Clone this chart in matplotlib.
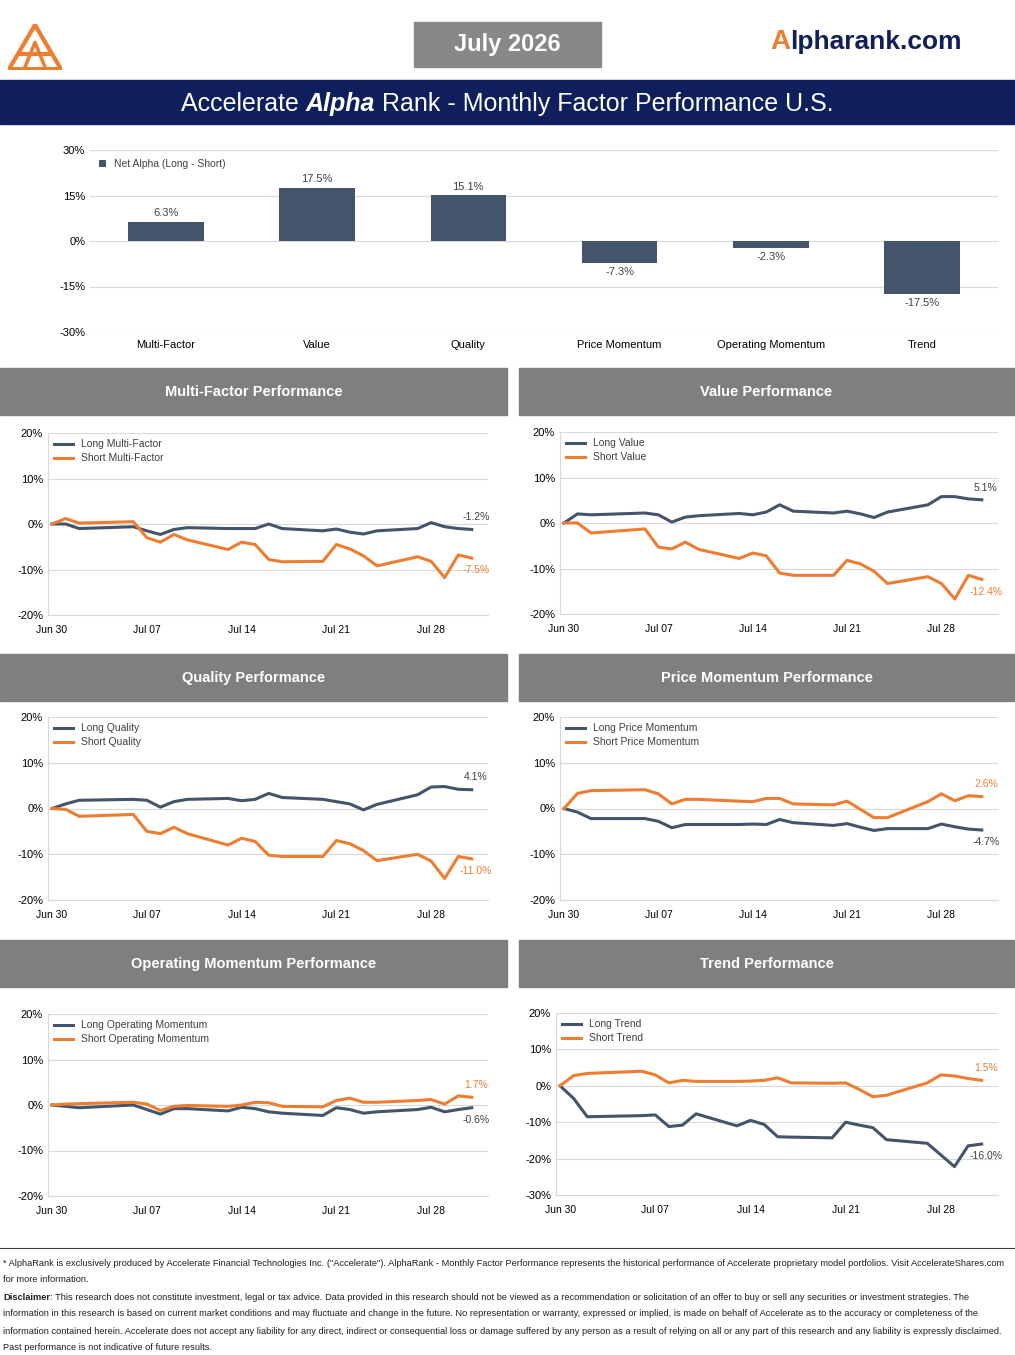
import matplotlib
matplotlib.use("Agg")
import matplotlib.pyplot as plt
from matplotlib.patches import Rectangle, Polygon

plt.rcParams['font.family'] = ['Liberation Sans', 'DejaVu Sans']

NAVY = '#0E1F5B'; SLATE = '#44546A'; ORANGE = '#ED7D31'; GRAY = '#7F7F7F'

factors = ['Multi-Factor', 'Value', 'Quality', 'Price Momentum', 'Operating Momentum', 'Trend']
net_alpha = [6.3, 17.5, 15.1, -7.3, -2.3, -17.5]

days = [0, 1, 2, 6, 7, 8, 9, 10, 13, 14, 15, 16, 17, 20, 21, 22, 23, 24, 27, 28, 29, 30, 31]
tick_days = [0, 7, 14, 21, 28]
tick_labels = ['Jun 30', 'Jul 07', 'Jul 14', 'Jul 21', 'Jul 28']

mf_long = [0, 0, -1, -0.6, -1.5, -2.3, -1.2, -0.8, -1, -1, -1, 0, -1, -1.5, -1.1, -1.8, -2.2, -1.5, -1, 0.3, -0.6, -1, -1.2]
mf_short = [0, 1.2, 0.2, 0.5, -3, -4, -2.3, -3.5, -5.6, -4, -4.5, -7.8, -8.3, -8.2, -4.5, -5.5, -7, -9.2, -7.2, -8.2, -11.8, -6.8, -7.5]
val_long = [0, 2, 1.8, 2.2, 1.8, 0.2, 1.3, 1.6, 2.1, 1.8, 2.4, 4, 2.6, 2.2, 2.6, 2, 1.2, 2.4, 4, 5.8, 5.8, 5.3, 5.1]
val_short = [0, 0, -2.2, -1.3, -5.3, -5.7, -4.2, -5.8, -7.8, -6.6, -7.2, -11, -11.5, -11.5, -8.2, -9, -10.6, -13.3, -11.8, -13.3, -16.7, -11.5, -12.4]
q_long = [0, 1, 1.8, 2, 1.8, 0.3, 1.5, 2, 2.2, 1.7, 2, 3.3, 2.4, 2, 1.5, 1, -0.3, 0.9, 3, 4.7, 4.8, 4.2, 4.1]
q_short = [0, -0.2, -1.7, -1.3, -5, -5.5, -4.1, -5.5, -8, -6.5, -7.2, -10.2, -10.5, -10.5, -7, -7.7, -9.2, -11.4, -10, -11.5, -15.3, -10.5, -11.0]
pm_long = [0, -0.8, -2.2, -2.2, -2.8, -4.2, -3.5, -3.5, -3.5, -3.4, -3.5, -2.4, -3.1, -3.7, -3.3, -4.1, -4.8, -4.4, -4.4, -3.4, -4, -4.5, -4.7]
pm_short = [0, 3.3, 3.9, 4.1, 3.2, 1, 2, 2, 1.6, 1.5, 2.2, 2.2, 1, 0.8, 1.6, -0.2, -2, -2, 1.5, 3.2, 1.7, 2.8, 2.6]
om_long = [0, -0.3, -0.6, 0, -1, -2, -0.8, -0.8, -1.3, -0.5, -0.8, -1.5, -1.8, -2.3, -0.6, -1, -1.8, -1.5, -1, -0.5, -1.5, -1, -0.6]
om_short = [0, 0.2, 0.3, 0.6, 0.2, -1.2, -0.3, -0.1, -0.3, 0, 0.6, 0.5, -0.3, -0.4, 1, 1.5, 0.6, 0.6, 1, 1.2, 0.2, 2, 1.7]
tr_long = [0, -3.5, -8.5, -8.2, -8, -11.2, -10.8, -7.7, -11, -9.5, -10.6, -14, -14.1, -14.3, -10, -10.8, -11.5, -14.8, -15.8, -19, -22.2, -16.5, -16.0]
tr_short = [0, 2.8, 3.4, 4, 3, 0.8, 1.5, 1.2, 1.2, 1.3, 1.5, 2.2, 0.8, 0.7, 0.8, -1, -3, -2.6, 0.8, 3, 2.7, 2, 1.5]

W, H = 1015, 1355
fig = plt.figure(figsize=(W / 100, H / 100), dpi=100)
renderer = fig.canvas.get_renderer()

def box(x, y, w, h):
    return [x / W, 1 - (y + h) / H, w / W, h / H]

def rect(x, y, w, h, color):
    fig.patches.append(Rectangle((x / W, 1 - (y + h) / H), w / W, h / H, transform=fig.transFigure, color=color, zorder=0))

def ftext(x, y, s, **kw):
    return fig.text(x / W, 1 - y / H, s, **kw)

def width_px(t):
    return t.get_window_extent(renderer).width

# header
ax_logo = fig.add_axes(box(8, 24, 54, 46)); ax_logo.axis('off')
ax_logo.set_xlim(0, 1); ax_logo.set_ylim(0, 1)
ax_logo.add_patch(Polygon([[0.02, 0.02], [0.5, 0.98], [0.98, 0.02]], closed=True, fill=False, ec=ORANGE, lw=3))
ax_logo.plot([0.22, 0.78], [0.35, 0.35], color=ORANGE, lw=3)
ax_logo.plot([0.3, 0.5, 0.7], [0.02, 0.6, 0.02], color=ORANGE, lw=2.5)
rect(414, 22, 187, 45, '#888888')
ftext(507, 45, 'July 2026', ha='center', va='center', color='white', fontsize=17, fontweight='bold')
ftext(770, 42, 'A', ha='left', va='center', color=ORANGE, fontsize=20, fontweight='bold')
ftext(790, 42, 'lpharank.com', ha='left', va='center', color=NAVY, fontsize=19, fontweight='bold')
rect(0, 80, 1015, 44, NAVY)
parts = [('Accelerate ', 'normal', 'normal'), ('Alpha', 'bold', 'italic'), (' Rank - Monthly Factor Performance U.S.', 'normal', 'normal')]
tmp = [ftext(0, 104, s, fontsize=18, fontweight=w, fontstyle=st) for s, w, st in parts]
widths = [width_px(t) for t in tmp]
for t in tmp: t.remove()
xs = (W - sum(widths)) / 2
for (s, w, st), wd in zip(parts, widths):
    ftext(xs, 104, s, fontsize=18, fontweight=w, fontstyle=st, color='white', va='center', ha='left')
    xs += wd

# bar chart
ax = fig.add_axes(box(90, 150, 908, 182))
x = range(len(factors))
ax.bar(x, net_alpha, width=0.5, color=SLATE, label='Net Alpha (Long - Short)', zorder=3)
for i, v in enumerate(net_alpha):
    ax.text(i, v + (1.2 if v > 0 else -1.2), f'{v:.1f}%', ha='center', va='bottom' if v > 0 else 'top', fontsize=8, color='#404040')
ax.set_ylim(-30, 30); ax.set_xlim(-0.5, 5.5)
ax.set_yticks([-30, -15, 0, 15, 30]); ax.set_yticklabels([f'{t}%' for t in [-30, -15, 0, 15, 30]], fontsize=8)
ax.set_xticks(list(x)); ax.set_xticklabels(factors, fontsize=8)
ax.grid(axis='y', color='#D9D9D9', lw=0.8, zorder=0)
for s in ax.spines.values(): s.set_visible(False)
ax.tick_params(length=0)
ax.tick_params(axis='x', pad=6)
ax.legend(loc='upper left', bbox_to_anchor=(0.0, 1.0), frameon=False, fontsize=7.5, handlelength=0.6, handleheight=0.6, labelcolor='#404040')

def line_panel(hx, hy, hw, title, axbox, long, short, lname, sname, ylim):
    rect(hx, hy, hw, 47, GRAY)
    ftext(hx + hw / 2, hy + 24, title, ha='center', va='center', color='white', fontsize=10.5, fontweight='bold')
    a = fig.add_axes(box(*axbox))
    a.plot(days, long, color=SLATE, lw=2.2, label=lname, zorder=3)
    a.plot(days, short, color=ORANGE, lw=2.2, label=sname, zorder=3)
    a.set_xlim(-0.3, 32.2); a.set_ylim(*ylim)
    yt = list(range(ylim[0], ylim[1] + 1, 10))
    a.set_yticks(yt); a.set_yticklabels([f'{t}%' for t in yt], fontsize=8)
    a.set_xticks(tick_days); a.set_xticklabels(tick_labels, fontsize=7.5)
    a.grid(axis='y', color='#D9D9D9', lw=0.8, zorder=0)
    for k, s in a.spines.items():
        s.set_visible(k in ('left', 'bottom')); s.set_color('#D9D9D9')
    a.tick_params(length=0)
    a.tick_params(axis='x', pad=7)
    a.legend(loc='upper left', frameon=False, fontsize=7.5, handlelength=1.8, borderaxespad=0.2, labelspacing=0.4, labelcolor='#404040')
    lv, sv = long[-1], short[-1]
    up_long = lv >= sv
    off = (ylim[1] - ylim[0]) * 0.04
    a.text(days[-1] + 0.3, lv + (off if up_long else -off), f'{lv:.1f}%', color='#404040', fontsize=7.5, ha='center', va='bottom' if up_long else 'top')
    a.text(days[-1] + 0.3, sv + (-off if up_long else off), f'{sv:.1f}%', color=ORANGE, fontsize=7.5, ha='center', va='top' if up_long else 'bottom')

line_panel(0, 368, 507, 'Multi-Factor Performance', (48, 433, 440, 182), mf_long, mf_short, 'Long Multi-Factor', 'Short Multi-Factor', (-20, 20))
line_panel(519, 368, 495, 'Value Performance', (560, 432, 438, 182), val_long, val_short, 'Long Value', 'Short Value', (-20, 20))
line_panel(0, 654, 507, 'Quality Performance', (48, 717, 440, 183), q_long, q_short, 'Long Quality', 'Short Quality', (-20, 20))
line_panel(519, 654, 495, 'Price Momentum Performance', (560, 717, 438, 183), pm_long, pm_short, 'Long Price Momentum', 'Short Price Momentum', (-20, 20))
line_panel(0, 940, 507, 'Operating Momentum Performance', (48, 1014, 440, 182), om_long, om_short, 'Long Operating Momentum', 'Short Operating Momentum', (-20, 20))
line_panel(519, 940, 495, 'Trend Performance', (556, 1013, 442, 182), tr_long, tr_short, 'Long Trend', 'Short Trend', (-30, 20))

# footer
fig.add_artist(plt.Line2D([0, 1], [1 - 1248 / H] * 2, color='#404040', lw=0.8, transform=fig.transFigure))
lines = [
    '* AlphaRank is exclusively produced by Accelerate Financial Technologies Inc. ("Accelerate"). AlphaRank - Monthly Factor Performance represents the historical performance of Accelerate proprietary model portfolios. Visit AccelerateShares.com',
    'for more information.',
    None,
    'information in this research is based on current market conditions and may fluctuate and change in the future. No representation or warranty, expressed or implied, is made on behalf of Accelerate as to the accuracy or completeness of the',
    'information contained herein. Accelerate does not accept any liability for any direct, indirect or consequential loss or damage suffered by any person as a result of relying on all or any part of this research and any liability is expressly disclaimed.',
    'Past performance is not indicative of future results.',
]
FS = 6.65
for i, s in enumerate(lines):
    y = 1263 + 17 * i
    if s is None:
        t1 = ftext(3, y, 'Disclaimer', fontsize=FS, fontweight='bold', va='center', color='#202020')
        ftext(3 + width_px(t1), y, ': This research does not constitute investment, legal or tax advice. Data provided in this research should not be viewed as a recommendation or solicitation of an offer to buy or sell any securities or investment strategies. The',
              fontsize=FS, va='center', color='#202020')
    else:
        ftext(3, y, s, fontsize=FS, va='center', color='#202020')

fig.savefig('out.png', dpi=100)
